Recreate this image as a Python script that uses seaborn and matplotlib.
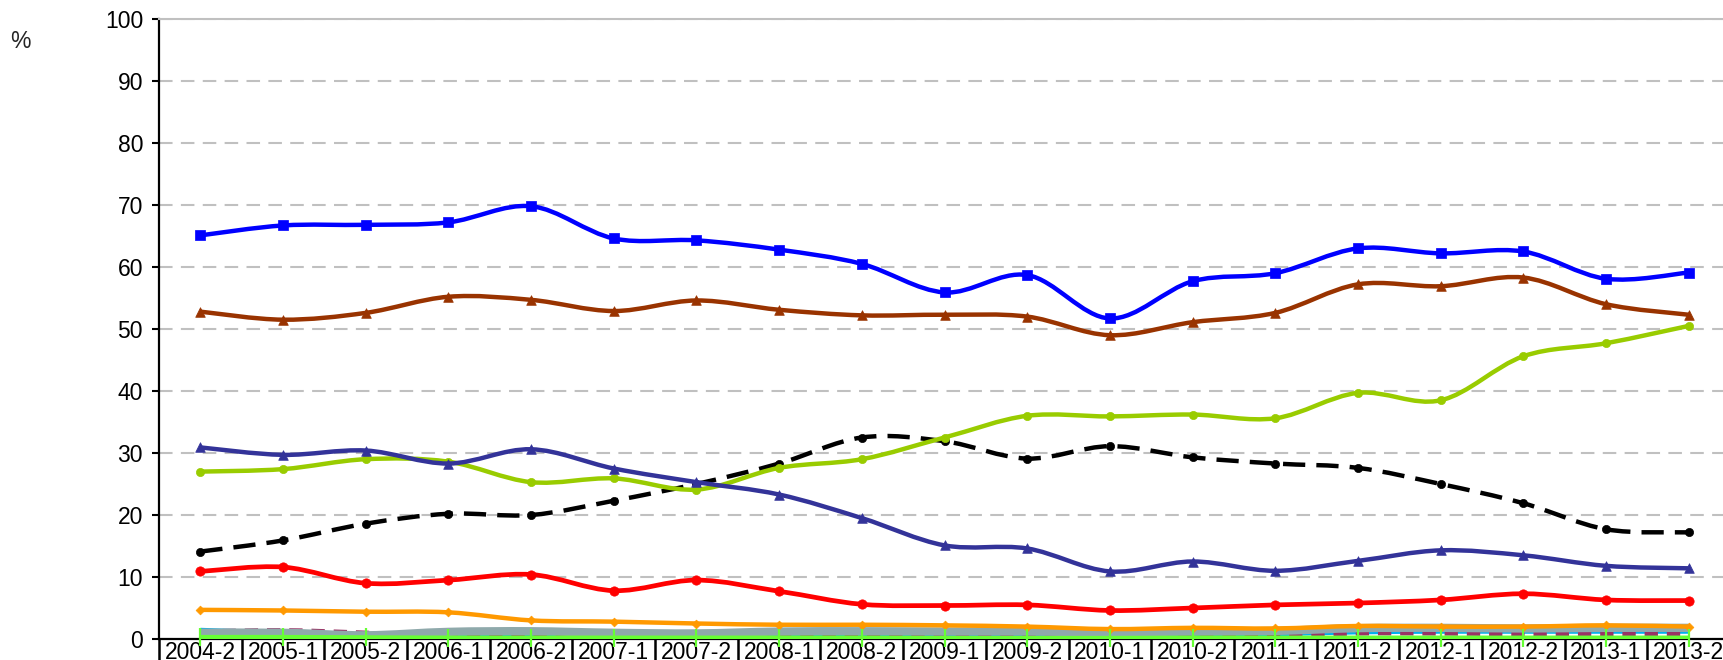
import numpy as np
import matplotlib
matplotlib.use("Agg")
import matplotlib.pyplot as plt
from matplotlib.path import Path
from matplotlib.patches import PathPatch
import seaborn as sns

# half-year periods on the x axis
periods = ["2004-2", "2005-1", "2005-2", "2006-1", "2006-2", "2007-1", "2007-2",
           "2008-1", "2008-2", "2009-1", "2009-2", "2010-1", "2010-2", "2011-1",
           "2011-2", "2012-1", "2012-2", "2013-1", "2013-2"]

blue = [65.1, 66.7, 66.8, 67.2, 69.8, 64.6, 64.3, 62.8, 60.5, 55.9,
        58.7, 51.7, 57.7, 59.0, 63.0, 62.2, 62.5, 58.1, 59.1]
brown = [52.8, 51.5, 52.6, 55.2, 54.7, 52.9, 54.6, 53.1, 52.2, 52.3,
         52.0, 49.0, 51.1, 52.6, 57.2, 56.9, 58.3, 54.0, 52.3]
lime = [27.0, 27.4, 29.0, 28.6, 25.3, 25.9, 24.1, 27.6, 29.0, 32.5,
        36.0, 35.9, 36.2, 35.6, 39.7, 38.5, 45.6, 47.7, 50.5]
navy = [30.9, 29.7, 30.4, 28.3, 30.6, 27.5, 25.3, 23.3, 19.5, 15.1,
        14.6, 10.9, 12.5, 11.0, 12.6, 14.3, 13.5, 11.8, 11.4]
black = [14.1, 15.9, 18.6, 20.2, 20.0, 22.3, 25.0, 28.3, 32.5, 31.9,
         29.1, 31.1, 29.3, 28.3, 27.6, 25.0, 21.9, 17.7, 17.2]
red = [10.9, 11.6, 9.0, 9.5, 10.4, 7.8, 9.5, 7.7, 5.6, 5.4,
       5.5, 4.6, 5.0, 5.5, 5.8, 6.3, 7.3, 6.3, 6.2]
orange = [4.7, 4.6, 4.4, 4.3, 3.0, 2.8, 2.5, 2.3, 2.3, 2.2,
          2.0, 1.6, 1.8, 1.7, 2.1, 2.0, 2.0, 2.2, 2.0]
cyan = [1.45, 1.0, 0.5, 0.5, 0.6, 0.5, 0.5, 0.5, 0.5, 0.55,
        0.55, 0.5, 0.6, 0.8, 1.1, 1.2, 1.2, 1.2, 1.2]
purple = [1.2, 1.4, 1.0, 0.5, 0.3, 0.3, 0.3, 0.3, 0.3, 0.3,
          0.3, 0.3, 0.3, 0.5, 0.9, 0.9, 0.8, 0.8, 0.8]
grey = [1.0, 1.0, 0.6, 1.15, 1.25, 1.0, 0.9, 1.2, 1.25, 1.2,
        1.2, 1.1, 1.2, 1.3, 1.75, 1.8, 1.7, 1.8, 1.8]
green = [0.3, 0.3, 0.25, 0.2, 0.2, 0.2, 0.2, 0.2, 0.2, 0.15,
         0.15, 0.15, 0.2, 0.2, 0.2, 0.2, 0.2, 0.2, 0.2]

y_ticks = [0, 10, 20, 30, 40, 50, 60, 70, 80, 90, 100]


def smooth_path(xs, ys):
    """Excel-style smoothed line as cubic Bezier segments."""
    pts = np.column_stack([xs, ys]).astype(float)
    n = len(pts)
    verts = [pts[0]]
    codes = [Path.MOVETO]
    for i in range(n - 1):
        p0 = pts[max(i - 1, 0)]
        p1, p2 = pts[i], pts[i + 1]
        p3 = pts[min(i + 2, n - 1)]
        verts += [p1 + (p2 - p0) / 6, p2 - (p3 - p1) / 6, p2]
        codes += [Path.CURVE4] * 3
    return Path(verts, codes)


sns.set_theme(style="white")
plt.rcParams["font.family"] = ["Liberation Sans", "DejaVu Sans"]

fig = plt.figure(figsize=(17.23, 6.60), dpi=100)
ax = fig.add_axes([159 / 1723, 21 / 660, 1571 / 1723, 620 / 660])

x = np.arange(len(periods))

# (values, color, linewidth, linestyle, marker, marker size)
series = [
    (cyan, "#00B0F0", 3.2, "-", None, 0),
    (purple, "#993366", 3.2, (0, (3, 2)), None, 0),
    (grey, "#8FA9AB", 6.0, "-", None, 0),
    (orange, "#FF9900", 3.2, "-", "D", 20),
    (green, "#66FF33", 3.2, "-", None, 0),
    (red, "#FF0000", 3.4, "-", "o", 45),
    (black, "#000000", 3.2, (0, (5, 2.5)), "o", 35),
    (lime, "#99CC00", 3.2, "-", "o", 35),
    (navy, "#333399", 3.2, "-", "^", 48),
    (brown, "#993300", 3.2, "-", "^", 48),
    (blue, "#0000FF", 3.2, "-", "s", 45),
]

for z, (vals, color, lw, ls, marker, size) in enumerate(series):
    patch = PathPatch(smooth_path(x, vals), facecolor="none", edgecolor=color,
                      lw=lw, linestyle=ls, capstyle="butt", joinstyle="round",
                      zorder=3 + z * 0.1)
    ax.add_patch(patch)
    if marker:
        sns.scatterplot(x=x, y=vals, marker=marker, s=size, color=color,
                        edgecolor=color, linewidth=0.5, ax=ax, legend=False,
                        zorder=3.05 + z * 0.1)

# green series uses vertical tick markers that poke through the axis
ax.plot(x, green, linestyle="none", marker="|", markersize=13, mew=1.6,
        color="#66FF33", clip_on=False, zorder=4.5)

ax.set_xlim(-0.5, len(periods) - 0.5)
ax.set_ylim(0, 100)
ax.set_yticks(y_ticks)
ax.set_xticks(x)
ax.set_xticklabels(periods)
ax.set_xticks(np.arange(-0.5, len(periods), 1), minor=True)

ax.tick_params(axis="x", which="major", length=0, pad=1.5, labelsize=16.5,
               colors="black")
ax.tick_params(axis="x", which="minor", length=20, width=1.8, direction="out",
               color="black", bottom=True)
ax.tick_params(axis="y", length=5, width=1.5, direction="out", pad=6.5,
               labelsize=16.5, left=True, colors="black")

ax.grid(axis="y", color="#C0C0C0", lw=1.5, linestyle=(0, (6.5, 4)))
ax.grid(axis="x", visible=False)
ax.set_axisbelow(True)

for side in ["left", "bottom"]:
    ax.spines[side].set_color("black")
    ax.spines[side].set_linewidth(1.6)
    ax.spines[side].set_zorder(2.5)
ax.spines["top"].set_color("#C0C0C0")
ax.spines["top"].set_linewidth(1.5)
ax.spines["right"].set_visible(False)

fig.text(20 / 1723, 1 - 42 / 660, "%", ha="center", va="center", fontsize=16.5)

fig.savefig("out.png", dpi=100)
